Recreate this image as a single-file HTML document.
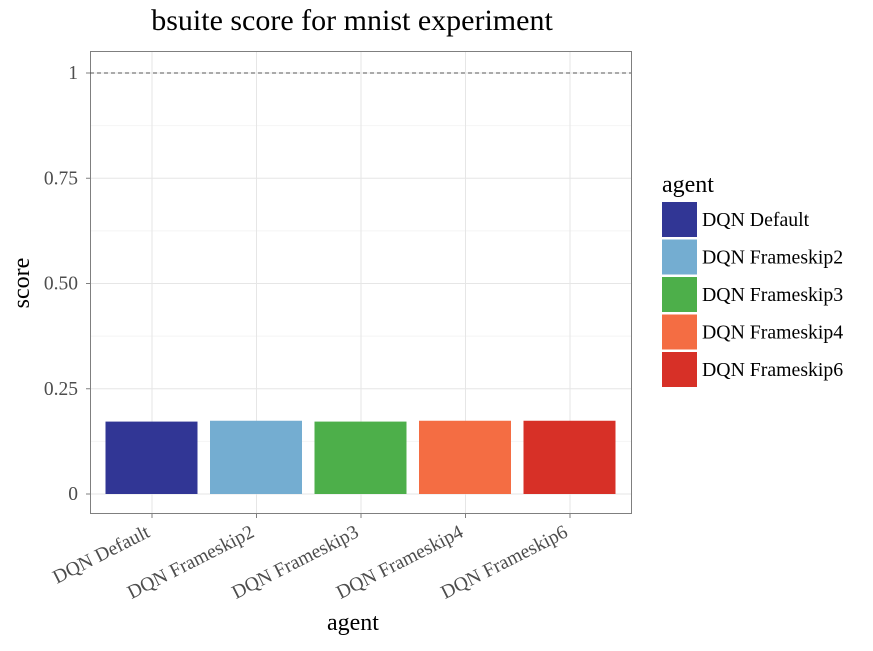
<!DOCTYPE html>
<html><head><meta charset="utf-8"><style>
body{margin:0;background:#fff;}
text{font-family:"Liberation Serif",serif;}
</style></head><body>
<svg width="873" height="646" xmlns="http://www.w3.org/2000/svg">
<text x="352" y="30" font-size="30" text-anchor="middle" fill="#000">bsuite score for mnist experiment</text>
<g id="grid"></g>
<g id="bars"></g>
<rect x="90.5" y="51.5" width="541" height="462" fill="none" stroke="#7f7f7f" stroke-width="1"/>
<line x1="90" x2="631" y1="73" y2="73" stroke="#555" stroke-dasharray="4,3" stroke-width="1"/>
<g id="axes"></g>
<text x="29" y="283" font-size="24" text-anchor="middle" transform="rotate(-90 29 283)">score</text>
<text x="353" y="630" font-size="24" text-anchor="middle">agent</text>
<g id="legend"><text x="662" y="192" font-size="24">agent</text></g>
</svg>
<script>
const categories=["DQN Default","DQN Frameskip2","DQN Frameskip3","DQN Frameskip4","DQN Frameskip6"];
const scores=[0.172,0.174,0.172,0.174,0.174];
const colors=["#313695","#74add1","#4daf4a","#f46d43","#d73027"];
const yTicks=[0,0.25,0.5,0.75,1];
const yTickLabels=["0","0.25","0.50","0.75","1"];
const NS="http://www.w3.org/2000/svg";
const y=v=>494-421*v;
const x=i=>152+i*104.5;
function mk(tag,attrs,parent){const e=document.createElementNS(NS,tag);for(const k in attrs)e.setAttribute(k,attrs[k]);parent.appendChild(e);return e;}
const grid=document.getElementById('grid'),bars=document.getElementById('bars'),axes=document.getElementById('axes'),legend=document.getElementById('legend');
for(let k=0;k<yTicks.length-1;k++){const m=(yTicks[k]+yTicks[k+1])/2;const l=mk('line',{x1:90,x2:631,y1:y(m),y2:y(m),stroke:'#f4f4f4','stroke-width':1},grid);}
yTicks.forEach((t,k)=>{const l=mk('line',{x1:90,x2:631,y1:y(t),y2:y(t),stroke:'#e6e6e6','stroke-width':1},grid);
const tk=mk('line',{x1:86,x2:90,y1:y(t),y2:y(t),stroke:'#7f7f7f'},axes);
const tx=mk('text',{x:78,y:y(t)+6,'font-size':19.5,'text-anchor':'end',fill:'#4d4d4d'},axes);tx.textContent=yTickLabels[k];});
categories.forEach((c,i)=>{const l=mk('line',{x1:x(i),x2:x(i),y1:51,y2:514,stroke:'#e6e6e6'},grid);
const b=mk('rect',{x:x(i)-46.5,y:y(scores[i]),width:92,height:y(0)-y(scores[i]),fill:colors[i]},bars);
const tk=mk('line',{x1:x(i),x2:x(i),y1:514,y2:518,stroke:'#7f7f7f'},axes);
const tx=mk('text',{x:x(i)-1,y:536,'font-size':19.5,'text-anchor':'end',fill:'#4d4d4d',transform:`rotate(-27 ${x(i)-1} 536)`},axes);tx.textContent=c;
const g=mk('g',{},legend);
const r=mk('rect',{x:662,y:202+i*37.5,width:35,height:35,fill:colors[i]},g);
const lt=mk('text',{x:702,y:226+i*37.5,'font-size':19.8},g);lt.textContent=c;});
</script>
</body></html>
